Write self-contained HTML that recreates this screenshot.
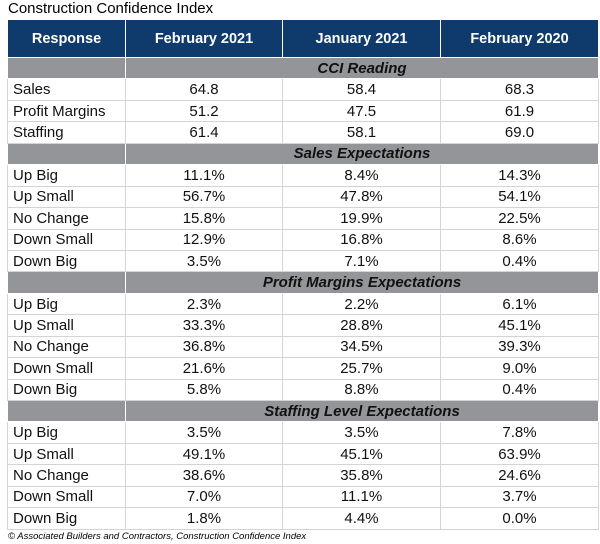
<!DOCTYPE html>
<html><head><style>
body{margin:0;background:#fff;width:600px;height:544px;overflow:hidden;font-family:"Liberation Sans",Arial,sans-serif;}
.t{position:absolute;left:8px;top:0px;font-size:15px;color:#000;line-height:18px}
table{position:absolute;left:7px;top:20px;border-collapse:collapse;table-layout:fixed;width:591px}
td,th{padding:0;height:20.45px;border:1px solid #d4d4d4;font-size:15px;color:#111}
th{background:#0e3a6c;color:#fff;font-weight:bold;height:37px;border:1px solid #fff;border-top:none;font-size:14.5px}
td.l{padding-left:5px;text-align:left}
td{text-align:center}
tr.s td{background:#939598;font-weight:bold;font-style:italic;border:1px solid #fff;color:#111}
.f{position:absolute;left:8px;top:531px;font-size:9.5px;font-style:italic;color:#000}
</style></head><body>
<div class="t">Construction Confidence Index</div>
<table>
<colgroup><col style="width:118px"><col style="width:157px"><col style="width:158px"><col style="width:158px"></colgroup>
<tr><th>Response</th><th>February 2021</th><th>January 2021</th><th>February 2020</th></tr>
<tr class="s"><td></td><td colspan="3">CCI Reading</td></tr>
<tr><td class="l">Sales</td><td>64.8</td><td>58.4</td><td>68.3</td></tr>
<tr><td class="l">Profit Margins</td><td>51.2</td><td>47.5</td><td>61.9</td></tr>
<tr><td class="l">Staffing</td><td>61.4</td><td>58.1</td><td>69.0</td></tr>
<tr class="s"><td></td><td colspan="3">Sales Expectations</td></tr>
<tr><td class="l">Up Big</td><td>11.1%</td><td>8.4%</td><td>14.3%</td></tr>
<tr><td class="l">Up Small</td><td>56.7%</td><td>47.8%</td><td>54.1%</td></tr>
<tr><td class="l">No Change</td><td>15.8%</td><td>19.9%</td><td>22.5%</td></tr>
<tr><td class="l">Down Small</td><td>12.9%</td><td>16.8%</td><td>8.6%</td></tr>
<tr><td class="l">Down Big</td><td>3.5%</td><td>7.1%</td><td>0.4%</td></tr>
<tr class="s"><td></td><td colspan="3">Profit Margins Expectations</td></tr>
<tr><td class="l">Up Big</td><td>2.3%</td><td>2.2%</td><td>6.1%</td></tr>
<tr><td class="l">Up Small</td><td>33.3%</td><td>28.8%</td><td>45.1%</td></tr>
<tr><td class="l">No Change</td><td>36.8%</td><td>34.5%</td><td>39.3%</td></tr>
<tr><td class="l">Down Small</td><td>21.6%</td><td>25.7%</td><td>9.0%</td></tr>
<tr><td class="l">Down Big</td><td>5.8%</td><td>8.8%</td><td>0.4%</td></tr>
<tr class="s"><td></td><td colspan="3">Staffing Level Expectations</td></tr>
<tr><td class="l">Up Big</td><td>3.5%</td><td>3.5%</td><td>7.8%</td></tr>
<tr><td class="l">Up Small</td><td>49.1%</td><td>45.1%</td><td>63.9%</td></tr>
<tr><td class="l">No Change</td><td>38.6%</td><td>35.8%</td><td>24.6%</td></tr>
<tr><td class="l">Down Small</td><td>7.0%</td><td>11.1%</td><td>3.7%</td></tr>
<tr><td class="l">Down Big</td><td>1.8%</td><td>4.4%</td><td>0.0%</td></tr>
</table>
<div class="f">© Associated Builders and Contractors, Construction Confidence Index</div>
</body></html>
